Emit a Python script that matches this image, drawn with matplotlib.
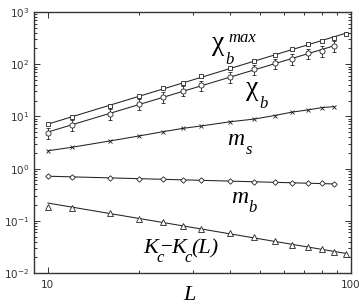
import numpy as np
import matplotlib
matplotlib.use('Agg')
import matplotlib.pyplot as plt

L = [10, 12, 16, 20, 24, 28, 32, 40, 48, 56, 64, 72, 80, 88, 96]

chi_max = [7.06, 9.6, 15.8, 24.3, 34.5, 44.2, 58.6, 84.6, 115, 152, 196, 240, 282, 322, 374]
chi_b = [4.87, 6.93, 11.3, 17.1, 23.2, 31.3, 39.1, 56.4, 79.8, 104, 126, 162, 181, 226]
chi_b_err = [1.2, 1.6, 2.6, 4.0, 5.5, 7.0, 9.0, 13.0, 18.0, 24.0, 29.0, 37.0, 42.0, 52.0]
m_s = [2.20, 2.56, 3.38, 4.22, 5.1, 5.92, 6.55, 7.91, 8.9, 10.4, 12.1, 13.3, 14.7, 15.4]
m_b = [0.731, 0.70, 0.652, 0.632, 0.624, 0.605, 0.600, 0.571, 0.554, 0.547, 0.537, 0.523, 0.520, 0.514]
dK = [0.18, 0.178, 0.139, 0.107, 0.096, 0.0795, 0.0697, 0.0577, 0.0483, 0.0416,
      0.0344, 0.0315, 0.0292, 0.0253, 0.0228]


def fit_line(x, y, x0, x1):
    p = np.polyfit(np.log10(x), np.log10(y), 1)
    xs = np.array([x0, x1])
    return xs, 10 ** np.polyval(p, np.log10(xs))


W, H = 359, 306
fig = plt.figure(figsize=(W / 100, H / 100), dpi=100)
ax = fig.add_axes([34 / W, 1 - 273 / H, (351 - 34) / W, (273 - 12) / H])
ax.set_xscale('log')
ax.set_yscale('log')
ax.set_xlim(9, 100)
ax.set_ylim(1e-2, 1e3)

lw = 0.75
mk = dict(mfc='white', mec='#222222', mew=0.6, ls='none', zorder=3)

n = len(chi_max)
xs, ys = fit_line(L[:n], chi_max, L[0], L[n - 1])
ax.plot(xs, ys, color='#222222', lw=lw)
ax.plot(L[:n], chi_max, marker='s', ms=3.3, **mk)

n = len(chi_b)
xs, ys = fit_line(L[:n], chi_b, L[0], L[n - 1])
ax.plot(xs, ys, color='#222222', lw=lw)
ax.errorbar(L[:n], chi_b, yerr=chi_b_err, fmt='o', ms=3.7, mfc='white', mec='#222222',
            mew=0.6, ecolor='#222222', elinewidth=0.6, capsize=1.5, capthick=0.6, zorder=3)

n = len(m_s)
ax.plot(L[:n], m_s, color='#222222', lw=lw)
ax.plot(L[:n], m_s, marker='x', ms=3.0, **mk)

n = len(m_b)
xs, ys = fit_line(L[:n], m_b, L[0], L[n - 1])
ax.plot(xs, ys, color='#222222', lw=lw)
ax.plot(L[:n], m_b, marker='D', ms=2.8, **mk)

n = len(dK)
xs, ys = fit_line(L[1:n], dK[1:], L[0], L[n - 1])
ax.plot(xs, ys, color='#222222', lw=lw)
ax.plot(L[:n], dK, marker='^', ms=3.8, **mk)

ax.set_xticks([10, 100])
ax.set_xticklabels(['10', '100'])
ax.tick_params(which='both', direction='in', top=True, right=True, labelsize=7.5,
               colors='#333333', width=0.7)
ax.tick_params(which='major', length=4)
ax.tick_params(which='minor', length=2)
ax.tick_params(axis='x', pad=5)
for s in ax.spines.values():
    s.set_linewidth(1.0)
    s.set_color('#333333')

serif = 'Liberation Serif'


def ftext(x, y, s, size, style='italic'):
    fig.text(x / W, 1 - y / H, s, fontsize=size, family=serif, style=style,
             ha='left', va='baseline')


ftext(212, 50, 'χ', 20, 'normal')
ftext(228, 42, 'max', 12)
ftext(225, 64, 'b', 12)
ftext(246, 95, 'χ', 20, 'normal')
ftext(259, 108, 'b', 12)
ftext(227, 145, 'm', 17)
ftext(246, 154, 's', 12)
ftext(231, 203, 'm', 17)
ftext(248, 212, 'b', 12)
ftext(143, 253, 'K', 16)
ftext(156, 262, 'c', 12)
ftext(161, 252, '−', 15, 'normal')
ftext(171, 253, 'K', 16)
ftext(184, 262, 'c', 12)
ftext(191, 253, '(L)', 16)
ftext(183, 300, 'L', 16)

fig.savefig('out.png', dpi=100)
